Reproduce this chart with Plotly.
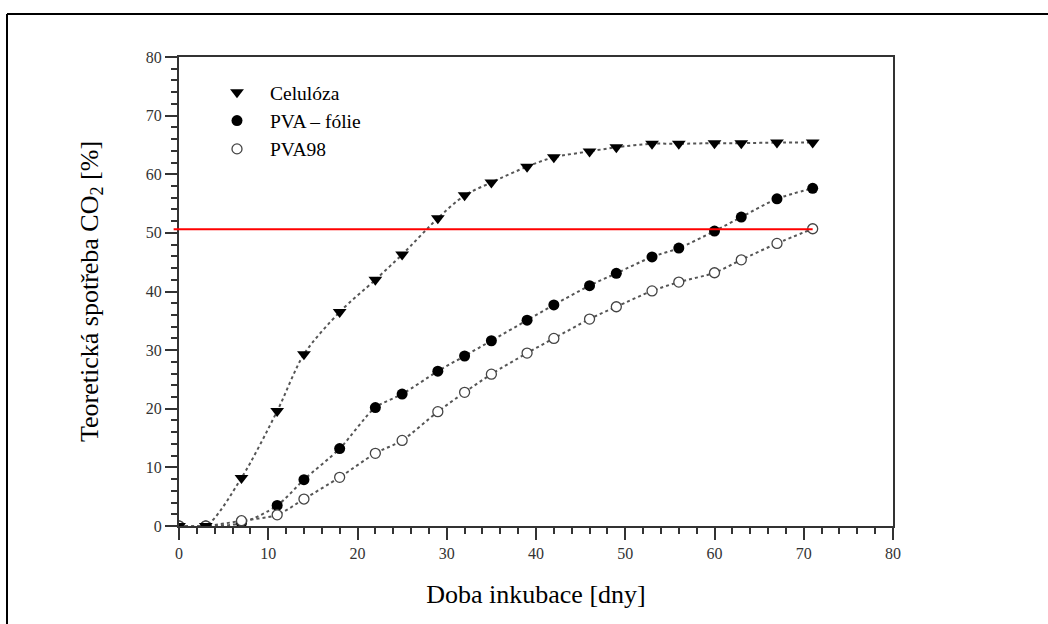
import plotly.graph_objects as go

# ---- data ----
days = [0, 3, 7, 11, 14, 18, 22, 25, 29, 32, 35, 39, 42, 46, 49, 53, 56, 60, 63, 67, 71]
celuloza = [0, 0, 8.2, 19.6, 29.3, 36.5, 42.0, 46.3, 52.5, 56.4, 58.6, 61.3, 62.9, 63.9,
            64.6, 65.2, 65.2, 65.3, 65.3, 65.4, 65.4]
pva_folie = [0, 0, 0.5, 3.5, 7.9, 13.2, 20.2, 22.5, 26.4, 29.0, 31.6, 35.1, 37.7, 41.0,
             43.1, 45.9, 47.4, 50.3, 52.7, 55.8, 57.6]
pva98 = [0, 0, 0.9, 1.9, 4.6, 8.3, 12.4, 14.6, 19.5, 22.8, 25.9, 29.5, 32.0, 35.3,
         37.4, 40.1, 41.6, 43.2, 45.4, 48.2, 50.7]
series_names = ["Celulóza", "PVA – fólie", "PVA98"]
threshold = 50.6
threshold_x = [-0.6, 71]
x_range = [0, 80]
y_range = [0, 80]
tick_vals = [0, 10, 20, 30, 40, 50, 60, 70, 80]

SERIF = "Liberation Serif, Times New Roman, serif"
dot_line = dict(color="#555555", width=2, dash="dot", shape="spline", smoothing=0.8)

fig = go.Figure()

# dotted fitted curves
for ys in (pva_folie, pva98, celuloza):
    fig.add_trace(go.Scatter(x=days, y=ys, mode="lines", line=dot_line,
                             showlegend=False, hoverinfo="skip"))

# markers
fig.add_trace(go.Scatter(x=days, y=pva_folie, mode="markers", name=series_names[1],
                         legendrank=2,
                         marker=dict(symbol="circle", size=11, color="black",
                                     line=dict(color="black", width=0))))
fig.add_trace(go.Scatter(x=days, y=pva98, mode="markers", name=series_names[2],
                         legendrank=3,
                         marker=dict(symbol="circle", size=10, color="white",
                                     line=dict(color="#444444", width=1.3))))
fig.add_trace(go.Scatter(x=days, y=celuloza, mode="markers", name=series_names[0],
                         legendrank=1,
                         marker=dict(symbol="triangle-down", size=12, color="black",
                                     line=dict(width=0))))

# plot geometry (px)
W, H = 1048, 624
ML, MR, MT, MB = 179, 155, 57, 98
PW, PH = W - ML - MR, H - MT - MB


def px_to_paper_x(px):
    return (px - ML) / PW


def px_to_paper_y(py):
    return (H - MB - py) / PH


shapes = [
    # red threshold line
    dict(type="line", xref="paper", yref="y",
         x0=(threshold_x[0] - x_range[0]) / (x_range[1] - x_range[0]),
         x1=(threshold_x[1] - x_range[0]) / (x_range[1] - x_range[0]),
         y0=threshold, y1=threshold, line=dict(color="#ff0000", width=2)),
    # outer frame (left and top edges visible)
    dict(type="line", xref="paper", yref="paper",
         x0=px_to_paper_x(7), x1=px_to_paper_x(7),
         y0=px_to_paper_y(14), y1=px_to_paper_y(640),
         line=dict(color="black", width=2)),
    dict(type="line", xref="paper", yref="paper",
         x0=px_to_paper_x(7), x1=px_to_paper_x(1060),
         y0=px_to_paper_y(14), y1=px_to_paper_y(14),
         line=dict(color="black", width=2)),
]

axis_common = dict(
    showgrid=False, zeroline=False, showline=True, linecolor="#333333", linewidth=2,
    mirror=True, ticks="outside", ticklen=12, tickwidth=1.5, tickcolor="#333333",
    tickfont=dict(family=SERIF, size=16, color="#333333"),
    minor=dict(ticks="outside", ticklen=6, tickwidth=1.5, tickcolor="#333333", dtick=2,
               showgrid=False),
    tickvals=tick_vals,
)

fig.update_layout(
    width=W, height=H,
    margin=dict(l=ML, r=MR, t=MT, b=MB, autoexpand=False),
    paper_bgcolor="white", plot_bgcolor="white",
    font=dict(family=SERIF, color="black"),
    xaxis=dict(range=x_range,
               title=dict(text="Doba inkubace [dny]", font=dict(family=SERIF, size=26),
                          standoff=24),
               **axis_common),
    yaxis=dict(range=y_range,
               title=dict(text="Teoretická spotřeba CO<sub>2</sub> [%]",
                          font=dict(family=SERIF, size=26), standoff=40),
               **axis_common),
    legend=dict(x=px_to_paper_x(204), y=px_to_paper_y(73), xanchor="left", yanchor="top",
                bgcolor="rgba(0,0,0,0)", font=dict(family=SERIF, size=19.5, color="black"),
                itemwidth=56, tracegroupgap=0),
    shapes=shapes,
    showlegend=True,
)

fig.write_html("out.html")
